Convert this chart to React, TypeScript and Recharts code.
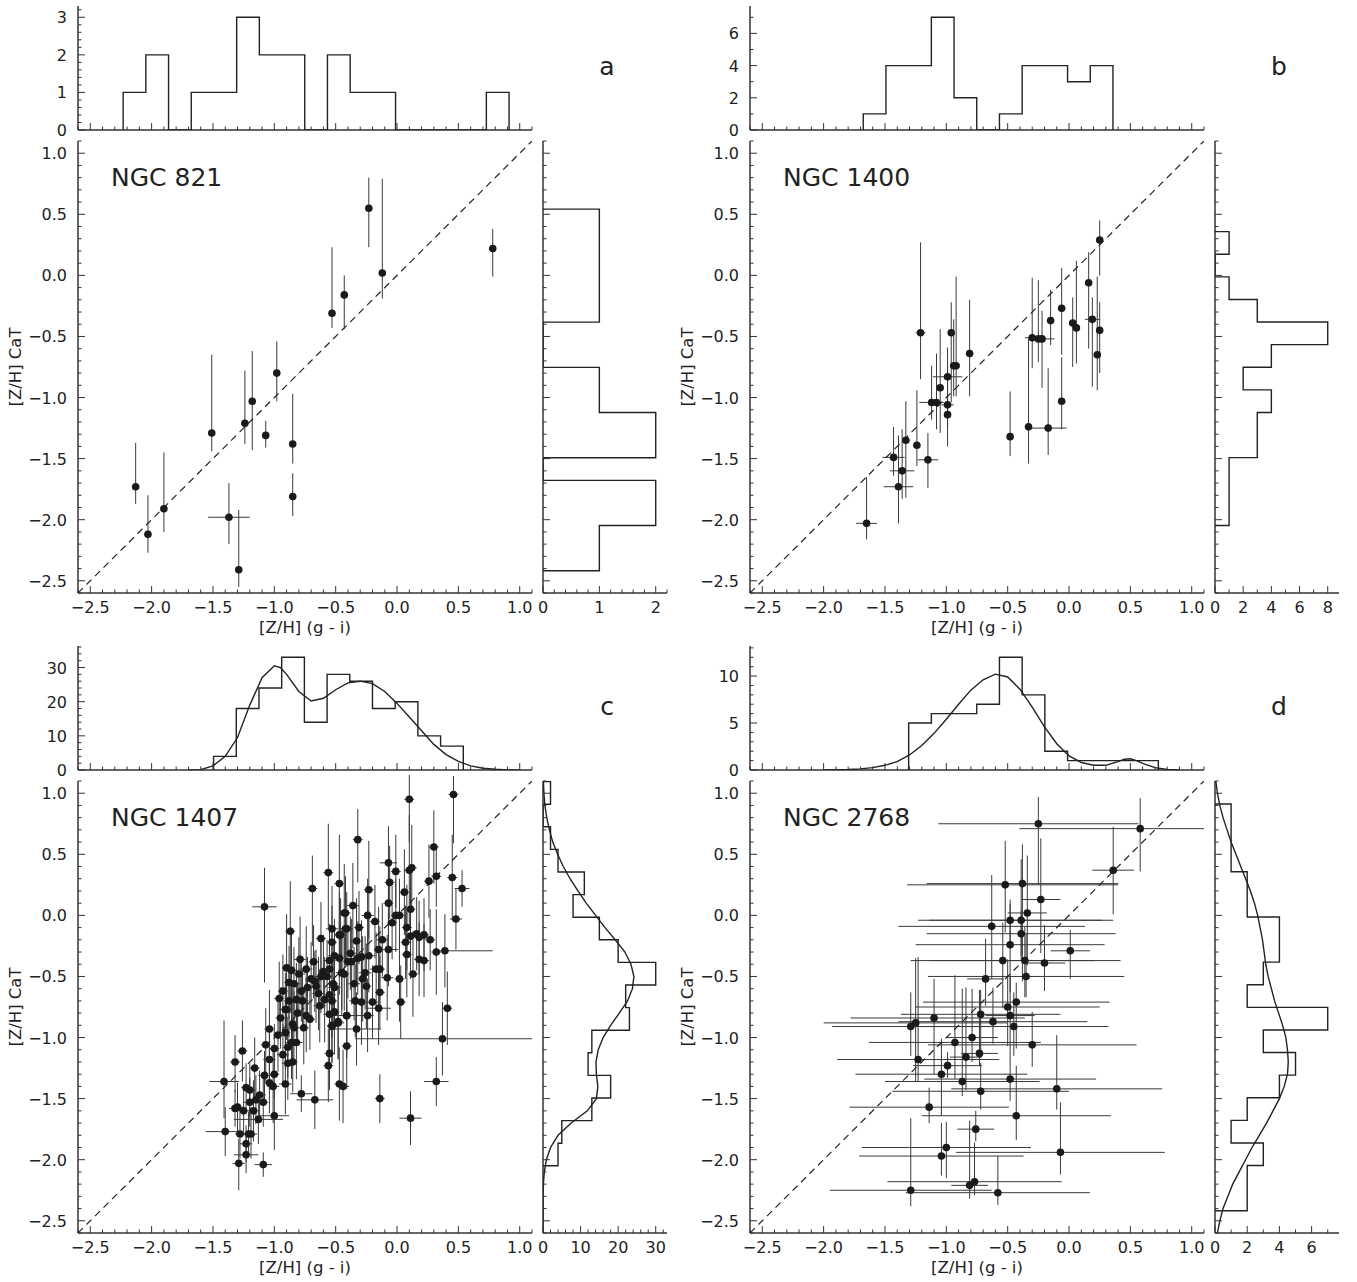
import React from 'react';
import { ScatterChart, Scatter, XAxis, YAxis, ErrorBar } from 'recharts';

type Err = number | [number, number];
// [Z/H](g-i), [Z/H](CaT), x error, y error ([lower, upper] when asymmetric)
type Obs = [number, number, Err, Err];
type XY = { x: number; y: number };

const FONT = '"DejaVu Sans", Verdana, sans-serif';
const INK = '#222222';
const FRAME = '#333333';
const BAR = '#3a3a3a';
const TICK_FONT = 16;

// shared metallicity axis
const ZH_DOMAIN: [number, number] = [-2.6, 1.1];
const ZH_MAJOR = [-2.5, -2.0, -1.5, -1.0, -0.5, 0.0, 0.5, 1.0];
const ZH_MINOR = 0.1;
const ONE_TO_ONE = [-2.6, 1.1];
const BIN = 0.185;

// ---------------- NGC 821 ----------------
const ngc821: Obs[] = [
  [-2.13, -1.73, 0.02, [0.14, 0.36]],
  [-2.03, -2.12, 0.02, [0.15, 0.32]],
  [-1.9, -1.91, 0.02, [0.19, 0.46]],
  [-1.51, -1.29, 0.02, [0.15, 0.64]],
  [-1.37, -1.98, 0.17, [0.22, 0.28]],
  [-1.29, -2.41, 0.02, [0.14, 0.49]],
  [-1.24, -1.21, 0.02, [0.17, 0.43]],
  [-1.18, -1.03, 0.02, [0.4, 0.41]],
  [-1.07, -1.31, 0.02, [0.1, 0.12]],
  [-0.98, -0.8, 0.02, [0.23, 0.26]],
  [-0.85, -1.38, 0.02, [0.16, 0.41]],
  [-0.85, -1.81, 0.02, [0.16, 0.19]],
  [-0.53, -0.31, 0.02, [0.12, 0.54]],
  [-0.43, -0.16, 0.02, [0.28, 0.16]],
  [-0.23, 0.55, 0.02, [0.32, 0.25]],
  [-0.12, 0.02, 0.02, [0.21, 0.77]],
  [0.78, 0.22, 0.02, [0.23, 0.16]],
];
const ngc821TopStart = -2.232;
const ngc821TopCounts = [1, 2, 0, 1, 1, 3, 2, 2, 0, 2, 1, 1, 0, 0, 0, 0, 1];
const ngc821SideStart = -2.418;
const ngc821SideCounts = [1, 1, 2, 2, 0, 2, 2, 1, 1, 0, 0, 1, 1, 1, 1, 1];

// ---------------- NGC 1400 ----------------
const ngc1400: Obs[] = [
  [-1.65, -2.03, 0.085, [0.13, 0.38]],
  [-1.43, -1.49, 0.09, [0.15, 0.25]],
  [-1.39, -1.73, 0.12, [0.3, 0.42]],
  [-1.36, -1.6, 0.1, [0.23, 0.34]],
  [-1.33, -1.35, 0.03, [0.47, 0.32]],
  [-1.24, -1.39, 0.02, [0.17, 0.45]],
  [-1.15, -1.51, 0.085, [0.23, 0.22]],
  [-1.21, -0.47, 0.04, [0.38, 0.74]],
  [-1.12, -1.04, 0.1, [0.14, 0.3]],
  [-1.08, -1.04, 0.02, [0.22, 0.4]],
  [-1.05, -0.92, 0.02, [0.37, 0.48]],
  [-0.99, -0.83, 0.12, [0.34, 0.24]],
  [-0.99, -1.06, 0.05, [0.34, 0.31]],
  [-0.99, -1.14, 0.02, [0.1, 0.1]],
  [-0.96, -0.47, 0.02, [0.57, 0.25]],
  [-0.94, -0.74, 0.02, [0.25, 0.38]],
  [-0.92, -0.74, 0.02, [0.25, 0.73]],
  [-0.81, -0.64, 0.02, [0.35, 0.44]],
  [-0.48, -1.32, 0.02, [0.16, 0.37]],
  [-0.33, -1.24, 0.02, [0.3, 0.72]],
  [-0.3, -0.51, 0.06, [0.25, 0.49]],
  [-0.25, -0.52, 0.02, [0.19, 0.48]],
  [-0.22, -0.52, 0.1, [0.4, 0.23]],
  [-0.17, -1.25, 0.15, [0.22, 0.49]],
  [-0.15, -0.37, 0.02, [0.2, 0.25]],
  [-0.06, -1.03, 0.02, [0.23, 0.36]],
  [-0.06, -0.27, 0.02, [0.38, 0.33]],
  [0.03, -0.39, 0.02, [0.36, 0.21]],
  [0.06, -0.43, 0.02, [0.29, 0.55]],
  [0.16, -0.06, 0.02, [0.54, 0.25]],
  [0.19, -0.36, 0.06, [0.55, 0.18]],
  [0.23, -0.65, 0.02, [0.29, 0.64]],
  [0.25, -0.45, 0.02, [0.35, 0.23]],
  [0.25, 0.29, 0.02, [0.29, 0.16]],
];
const ngc1400TopStart = -1.677;
const ngc1400TopCounts = [1, 4, 4, 7, 2, 0, 1, 4, 4, 3, 4];
const ngc1400SideStart = -2.047;
const ngc1400SideCounts = [1, 1, 1, 3, 3, 4, 2, 4, 8, 3, 1, 0, 1];

// ---------------- NGC 1407 ----------------
const ngc1407: Obs[] = [
  [-1.08, 0.07, 0.1, [0.62, 0.32]],
  [-1.41, -1.36, 0.12, [0.3, 0.5]],
  [-1.4, -1.77, [0.16, 0.1], 0.2],
  [-1.32, -1.2, 0.04, [0.25, 0.22]],
  [-1.26, -1.11, 0.04, 0.25],
  [-1.32, -1.58, 0.05, 0.15],
  [-1.3, -1.57, 0.05, 0.2],
  [-1.28, -1.79, 0.04, 0.2],
  [-1.23, -1.87, 0.05, 0.15],
  [-1.23, -1.96, 0.1, 0.15],
  [-1.29, -2.03, 0.05, [0.22, 0.2]],
  [-1.21, -1.79, 0.04, 0.18],
  [-1.19, -1.79, 0.05, 0.2],
  [-1.23, -1.41, 0.04, 0.2],
  [-1.2, -1.43, 0.05, 0.22],
  [-1.2, -1.53, 0.05, 0.2],
  [-1.17, -1.6, 0.04, 0.25],
  [-1.13, -1.67, 0.2, 0.2],
  [-1.15, -1.51, 0.05, 0.2],
  [-1.09, -1.53, 0.04, 0.2],
  [-1.09, -2.04, 0.07, 0.1],
  [-1.0, -1.64, 0.12, 0.28],
  [-1.08, -1.31, 0.05, 0.2],
  [-1.07, -1.06, 0.04, 0.3],
  [-1.04, -0.93, 0.04, [0.2, 0.32]],
  [-1.04, -1.37, 0.04, 0.25],
  [-1.01, -1.4, 0.05, 0.3],
  [-1.0, -1.3, 0.04, 0.2],
  [-1.04, -1.18, 0.05, 0.25],
  [-1.0, -1.09, 0.04, 0.2],
  [-0.96, -0.68, 0.04, 0.3],
  [-0.95, -0.84, 0.04, 0.25],
  [-0.91, -0.77, 0.05, 0.3],
  [-0.9, -0.43, 0.04, 0.44],
  [-0.88, -0.55, 0.04, 0.3],
  [-0.86, -0.45, 0.05, 0.35],
  [-0.87, -0.13, 0.04, [0.67, 0.41]],
  [-0.9, -0.77, 0.05, 0.25],
  [-0.91, -0.96, 0.04, 0.3],
  [-0.91, -1.38, 0.05, 0.25],
  [-0.89, -1.21, 0.05, 0.3],
  [-0.85, -1.2, 0.04, 0.25],
  [-0.86, -1.04, 0.05, 0.3],
  [-0.89, -1.08, 0.04, 0.25],
  [-0.85, -0.89, 0.04, 0.3],
  [-0.82, -1.04, 0.05, 0.3],
  [-0.81, -0.8, 0.04, 0.25],
  [-0.84, -0.56, 0.05, 0.3],
  [-0.78, -1.46, 0.09, 0.15],
  [-0.67, -1.51, 0.15, 0.24],
  [-0.82, -0.69, 0.04, 0.3],
  [-0.77, -0.7, 0.05, 0.25],
  [-0.76, -0.92, 0.04, 0.3],
  [-0.74, -0.44, 0.05, 0.35],
  [-0.73, -0.59, 0.04, 0.25],
  [-0.69, 0.22, 0.04, [0.47, 0.27]],
  [-0.7, -0.52, 0.05, 0.3],
  [-0.67, -0.54, 0.04, 0.25],
  [-0.74, -0.82, 0.05, 0.3],
  [-0.71, -0.85, 0.04, 0.25],
  [-0.66, -0.58, 0.04, 0.3],
  [-0.63, -0.74, 0.05, 0.3],
  [-0.62, -0.19, 0.04, 0.3],
  [-0.62, -0.5, 0.05, 0.3],
  [-0.59, -0.69, 0.04, 0.35],
  [-0.56, 0.35, 0.04, [0.45, 0.4]],
  [-0.53, -0.11, 0.05, 0.35],
  [-0.53, -0.22, 0.04, 0.3],
  [-0.55, -0.37, 0.05, 0.3],
  [-0.57, -0.5, 0.04, 0.3],
  [-0.55, -0.44, 0.04, 0.35],
  [-0.51, -0.33, 0.05, 0.3],
  [-0.52, -0.56, 0.04, 0.35],
  [-0.55, -0.65, 0.05, 0.3],
  [-0.53, -0.7, 0.04, 0.3],
  [-0.55, -0.81, 0.05, 0.3],
  [-0.53, -0.91, 0.04, 0.3],
  [-0.55, -1.13, 0.04, 0.3],
  [-0.56, -1.23, 0.04, 0.3],
  [-0.51, -0.79, 0.04, 0.35],
  [-0.48, -0.88, 0.05, 0.3],
  [-0.47, 0.26, 0.04, 0.4],
  [-0.47, -0.16, 0.04, 0.35],
  [-0.45, -0.47, 0.05, 0.3],
  [-0.43, 0.02, 0.04, 0.4],
  [-0.41, -0.11, 0.05, 0.3],
  [-0.4, -0.38, 0.04, 0.3],
  [-0.41, -0.82, 0.05, 0.35],
  [-0.41, -1.07, 0.04, 0.35],
  [-0.47, -1.38, 0.04, 0.3],
  [-0.44, -1.4, 0.05, 0.3],
  [0.1, 0.95, 0.04, [0.35, 0.2]],
  [0.46, 0.99, 0.04, [0.4, 0.15]],
  [-0.32, 0.62, 0.04, [0.35, 0.25]],
  [0.3, 0.56, 0.04, 0.3],
  [-0.07, 0.43, 0.07, 0.3],
  [-0.01, 0.36, 0.04, 0.3],
  [0.1, 0.37, 0.04, 0.45],
  [0.12, 0.39, 0.04, 0.35],
  [0.32, 0.32, 0.04, 0.25],
  [0.45, 0.31, 0.04, 0.35],
  [0.26, 0.28, 0.04, 0.3],
  [0.53, 0.22, 0.06, 0.15],
  [-0.06, 0.27, 0.04, 0.3],
  [0.06, 0.19, 0.04, 0.35],
  [-0.23, 0.21, 0.04, 0.4],
  [-0.36, 0.08, 0.05, 0.35],
  [-0.42, 0.02, 0.04, 0.3],
  [-0.24, 0.0, 0.05, 0.3],
  [-0.07, 0.1, 0.04, 0.35],
  [-0.01, 0.0, 0.04, 0.3],
  [0.02, 0.0, 0.04, 0.3],
  [-0.04, -0.06, 0.04, 0.3],
  [0.11, 0.05, 0.04, 0.3],
  [0.48, -0.03, 0.05, 0.25],
  [0.08, -0.1, 0.04, 0.35],
  [0.16, -0.15, 0.04, 0.3],
  [0.11, -0.17, 0.04, 0.35],
  [0.22, -0.16, 0.04, 0.3],
  [0.27, -0.2, 0.04, 0.25],
  [0.18, -0.18, 0.04, 0.3],
  [0.07, -0.22, 0.04, 0.3],
  [-0.46, -0.16, 0.05, 0.3],
  [-0.42, -0.11, 0.04, 0.3],
  [-0.33, -0.21, 0.05, 0.35],
  [-0.47, -0.35, 0.04, 0.3],
  [-0.38, -0.31, 0.05, 0.3],
  [-0.32, -0.35, 0.04, 0.3],
  [-0.29, -0.34, 0.05, 0.3],
  [-0.37, -0.38, 0.04, 0.35],
  [-0.23, -0.33, 0.05, 0.3],
  [-0.15, -0.28, 0.04, 0.35],
  [-0.07, -0.28, 0.08, 0.3],
  [0.08, -0.32, 0.04, 0.35],
  [0.32, -0.3, 0.04, 0.35],
  [0.39, -0.29, [0.05, 0.39], 0.3],
  [0.18, -0.36, 0.04, 0.3],
  [0.22, -0.37, 0.04, 0.3],
  [0.13, -0.48, 0.04, 0.35],
  [-0.17, -0.44, 0.05, 0.3],
  [-0.14, -0.44, 0.04, 0.35],
  [-0.26, -0.47, 0.05, 0.3],
  [-0.45, -0.47, 0.04, 0.35],
  [-0.43, -0.48, 0.04, 0.3],
  [-0.08, -0.51, 0.05, 0.35],
  [0.02, -0.52, 0.04, 0.35],
  [-0.35, -0.56, 0.05, 0.3],
  [-0.28, -0.52, 0.04, 0.35],
  [-0.51, -0.59, 0.05, 0.3],
  [-0.14, -0.63, 0.04, 0.3],
  [-0.34, -0.7, 0.05, 0.3],
  [-0.29, -0.71, 0.04, 0.35],
  [-0.2, -0.71, 0.05, 0.3],
  [0.03, -0.71, 0.04, 0.3],
  [-0.15, -0.76, 0.1, 0.3],
  [0.41, -0.76, 0.04, 0.3],
  [-0.41, -0.82, 0.15, 0.3],
  [-0.24, -0.82, 0.05, 0.3],
  [-0.48, -0.87, 0.04, 0.3],
  [-0.33, -0.93, 0.2, 0.3],
  [-0.53, -0.9, 0.04, 0.3],
  [0.37, -1.01, [0.71, 0.73], 0.3],
  [0.32, -1.36, 0.1, 0.2],
  [-0.14, -1.5, 0.04, 0.2],
  [0.11, -1.66, 0.09, 0.22],
  [-0.93, -0.62, 0.04, 0.3],
  [-0.8, -0.48, 0.05, 0.3],
  [-0.78, -0.62, 0.04, 0.25],
  [-0.84, -0.92, 0.04, 0.3],
  [-0.93, -1.14, 0.05, 0.25],
  [-0.97, -0.98, 0.04, 0.3],
  [-0.88, -0.7, 0.04, 0.3],
  [-0.79, -0.36, 0.05, 0.35],
  [-0.68, -0.38, 0.04, 0.3],
  [-0.64, -0.64, 0.05, 0.3],
  [-0.6, -0.46, 0.04, 0.3],
  [-0.25, -0.58, 0.04, 0.35],
  [-0.12, -0.2, 0.05, 0.3],
  [-0.18, -0.05, 0.04, 0.3],
  [-0.31, -0.1, 0.04, 0.3],
  [-1.12, -1.47, 0.05, 0.2],
  [-1.25, -1.6, 0.05, 0.2],
  [-1.16, -1.25, 0.04, 0.25],
];
const ngc1407TopStart = -1.495;
const ngc1407TopCounts = [4, 18, 24, 33, 14, 28, 26, 18, 20, 10, 7];
const ngc1407SideStart = -2.05;
const ngc1407SideCounts = [4, 5, 13, 18, 12, 13, 23, 22, 30, 20, 15, 8, 11, 4, 2, 0, 2];
// kernel density estimates: [Z/H], N
const ngc1407TopKde: [number, number][] = [
  [-1.7, 0], [-1.6, 0.1], [-1.5, 1.2], [-1.4, 4], [-1.3, 9.5], [-1.2, 19], [-1.1, 27],
  [-1.0, 30.5], [-0.95, 30], [-0.9, 28], [-0.8, 23], [-0.7, 20.2], [-0.6, 21], [-0.5, 23.5],
  [-0.4, 25.5], [-0.3, 26], [-0.2, 25.3], [-0.1, 23], [0.0, 19.5], [0.1, 15.5], [0.2, 11.5],
  [0.3, 7.5], [0.4, 4.5], [0.5, 2.5], [0.6, 1.2], [0.7, 0.5], [0.8, 0.2], [0.9, 0.05], [1.0, 0],
];
const ngc1407SideKde: [number, number][] = [
  [1.1, 0.1], [1.0, 0.25], [0.9, 0.5], [0.8, 1.0], [0.7, 1.7], [0.6, 2.6], [0.5, 3.9],
  [0.4, 5.4], [0.3, 7.2], [0.2, 9.3], [0.1, 11.5], [0.0, 14.0], [-0.1, 16.5], [-0.2, 19.2],
  [-0.3, 21.8], [-0.4, 23.4], [-0.5, 24.2], [-0.6, 23.8], [-0.7, 22.5], [-0.8, 20.3],
  [-0.9, 18.0], [-1.0, 16.0], [-1.1, 14.7], [-1.2, 14.1], [-1.3, 14.2], [-1.4, 14.6],
  [-1.5, 14.2], [-1.6, 11.8], [-1.7, 7.5], [-1.8, 4.0], [-1.9, 2.0], [-2.0, 0.9],
  [-2.1, 0.35], [-2.2, 0.1], [-2.3, 0.02], [-2.6, 0],
];

// ---------------- NGC 2768 ----------------
const ngc2768: Obs[] = [
  [-0.25, 0.75, 0.815, [0.5, 0.22]],
  [0.58, 0.71, [0.985, 0.52], [0.35, 0.25]],
  [0.36, 0.37, 0.17, [0.36, 0.355]],
  [-0.52, 0.25, [0.8, 0.92], [0.39, 0.36]],
  [-0.38, 0.26, 0.78, [0.8, 0.32]],
  [-0.23, 0.13, 0.16, [0.44, 0.5]],
  [-0.34, 0.02, 0.16, [0.43, 0.47]],
  [-0.48, -0.04, 0.75, [0.19, 0.17]],
  [-0.39, -0.04, 0.75, [0.33, 0.5]],
  [-0.63, -0.09, 0.76, [0.43, 0.42]],
  [-0.39, -0.15, 0.77, [0.18, 0.19]],
  [-0.48, -0.24, 0.77, [0.39, 0.33]],
  [0.01, -0.29, 0.16, [0.23, 0.17]],
  [-0.54, -0.37, 0.75, [0.39, 0.31]],
  [-0.36, -0.37, 0.78, [0.3, 0.28]],
  [-0.2, -0.39, 0.17, [0.23, 0.31]],
  [-0.35, -0.5, 0.8, [0.17, 0.35]],
  [-0.68, -0.52, 0.15, [0.22, 0.33]],
  [-0.43, -0.71, 0.76, [0.38, 0.16]],
  [-0.5, -0.75, 0.75, [0.32, 0.39]],
  [-0.72, -0.81, 0.65, [0.34, 0.2]],
  [-0.48, -0.82, 0.2, [0.28, 0.32]],
  [-1.1, -0.84, [0.68, 0.74], [0.46, 0.32]],
  [-0.62, -0.87, 0.77, [0.18, 0.28]],
  [-1.25, -0.88, 0.75, [0.48, 0.53]],
  [-1.29, -0.91, 0.64, [0.24, 0.28]],
  [-0.45, -0.91, 0.77, [0.24, 0.28]],
  [-0.79, -1.0, 0.21, [0.2, 0.4]],
  [-0.93, -1.04, 0.7, [0.3, 0.55]],
  [-0.3, -1.06, 0.85, [0.18, 0.27]],
  [-0.84, -1.16, 0.13, [0.27, 0.57]],
  [-0.73, -1.13, 0.15, [0.1, 0.52]],
  [-1.23, -1.18, 0.66, [0.18, 0.84]],
  [-0.99, -1.23, 0.28, [0.1, 0.11]],
  [-1.04, -1.3, 0.7, [0.34, 0.29]],
  [-0.87, -1.36, 0.63, [0.12, 0.76]],
  [-0.48, -1.34, 0.7, [0.18, 0.24]],
  [-0.1, -1.42, 0.86, [0.17, 0.44]],
  [-0.72, -1.44, 0.72, [0.15, 0.23]],
  [-1.14, -1.57, 0.65, [0.13, 0.16]],
  [-0.43, -1.64, 0.77, [0.2, 0.41]],
  [-0.76, -1.75, 0.15, [0.1, 0.15]],
  [-1.0, -1.9, 0.69, [0.25, 0.21]],
  [-1.04, -1.97, 0.67, [0.16, 0.27]],
  [-0.07, -1.94, 0.85, [0.18, 0.41]],
  [-1.29, -2.25, 0.66, [0.13, 0.59]],
  [-0.81, -2.21, 0.15, [0.11, 0.53]],
  [-0.77, -2.18, 0.71, [0.11, 0.32]],
  [-0.58, -2.27, 0.75, [0.1, 0.3]],
];
const ngc2768TopStart = -1.307;
const ngc2768TopCounts = [5, 6, 6, 7, 12, 8, 2, 1, 1, 1, 1];
const ngc2768SideStart = -2.418;
const ngc2768SideCounts = [2, 2, 3, 1, 2, 4, 5, 3, 7, 2, 3, 4, 4, 2, 2, 1, 1, 1];
const ngc2768TopKde: [number, number][] = [
  [-2.0, 0], [-1.8, 0.05], [-1.7, 0.12], [-1.6, 0.25], [-1.5, 0.5], [-1.4, 0.9], [-1.3, 1.6],
  [-1.2, 2.6], [-1.1, 3.9], [-1.0, 5.4], [-0.9, 7.0], [-0.8, 8.5], [-0.7, 9.6], [-0.6, 10.2],
  [-0.5, 9.9], [-0.4, 8.6], [-0.3, 6.7], [-0.2, 4.6], [-0.1, 2.8], [0.0, 1.5], [0.1, 0.8],
  [0.2, 0.5], [0.3, 0.5], [0.4, 0.9], [0.45, 1.15], [0.5, 1.2], [0.55, 1.0], [0.6, 0.7],
  [0.7, 0.25], [0.8, 0.05], [0.9, 0],
];
const ngc2768SideKde: [number, number][] = [
  [1.1, 0.05], [1.0, 0.15], [0.9, 0.3], [0.8, 0.5], [0.7, 0.75], [0.6, 1.0], [0.5, 1.3],
  [0.4, 1.6], [0.3, 1.9], [0.2, 2.2], [0.1, 2.45], [0.0, 2.65], [-0.1, 2.8], [-0.2, 2.95],
  [-0.3, 3.05], [-0.4, 3.15], [-0.5, 3.3], [-0.6, 3.5], [-0.7, 3.7], [-0.8, 3.95], [-0.9, 4.2],
  [-1.0, 4.4], [-1.1, 4.5], [-1.2, 4.55], [-1.3, 4.5], [-1.4, 4.3], [-1.5, 4.0], [-1.6, 3.6],
  [-1.7, 3.2], [-1.8, 2.75], [-1.9, 2.3], [-2.0, 1.9], [-2.1, 1.5], [-2.2, 1.1], [-2.3, 0.8],
  [-2.4, 0.5], [-2.5, 0.3], [-2.6, 0.15],
];

// ---------------- layout ----------------
const MAIN_L = 78;
const MAIN_T = 141;
const MAIN_W = 454;
const MAIN_H = 452;
const GAP = 11;
const MARG = 124; // thickness of the marginal histograms
const DX = 672;
const DY = 640;
const PAD = { t: 10, r: 10, b: 40, l: 60 };
const MAJOR_LEN = 7;
const MINOR_LEN = 3.5;

type PanelDef = {
  letter: string;
  name: string;
  dx: number;
  dy: number;
  obs: Obs[];
  topStart: number;
  topCounts: number[];
  topMajor: number[];
  topMinor: number;
  sideStart: number;
  sideCounts: number[];
  sideMajor: number[];
  sideMinor: number;
  topKde?: [number, number][];
  sideKde?: [number, number][];
};

const PANELS: PanelDef[] = [
  {
    letter: 'a', name: 'NGC 821', dx: 0, dy: 0, obs: ngc821,
    topStart: ngc821TopStart, topCounts: ngc821TopCounts, topMajor: [0, 1, 2, 3], topMinor: 0.2,
    sideStart: ngc821SideStart, sideCounts: ngc821SideCounts, sideMajor: [0, 1, 2], sideMinor: 0.2,
  },
  {
    letter: 'b', name: 'NGC 1400', dx: DX, dy: 0, obs: ngc1400,
    topStart: ngc1400TopStart, topCounts: ngc1400TopCounts, topMajor: [0, 2, 4, 6], topMinor: 1,
    sideStart: ngc1400SideStart, sideCounts: ngc1400SideCounts, sideMajor: [0, 2, 4, 6, 8], sideMinor: 1,
  },
  {
    letter: 'c', name: 'NGC 1407', dx: 0, dy: DY, obs: ngc1407,
    topStart: ngc1407TopStart, topCounts: ngc1407TopCounts, topMajor: [0, 10, 20, 30], topMinor: 2,
    sideStart: ngc1407SideStart, sideCounts: ngc1407SideCounts, sideMajor: [0, 10, 20, 30], sideMinor: 2,
    topKde: ngc1407TopKde, sideKde: ngc1407SideKde,
  },
  {
    letter: 'd', name: 'NGC 2768', dx: DX, dy: DY, obs: ngc2768,
    topStart: ngc2768TopStart, topCounts: ngc2768TopCounts, topMajor: [0, 5, 10], topMinor: 1,
    sideStart: ngc2768SideStart, sideCounts: ngc2768SideCounts, sideMajor: [0, 2, 4, 6], sideMinor: 1,
    topKde: ngc2768TopKde, sideKde: ngc2768SideKde,
  },
];

// ---------------- helpers ----------------
function tickValues(domain: [number, number], step: number): number[] {
  const out: number[] = [];
  const first = Math.ceil(domain[0] / step - 1e-9);
  const last = Math.floor(domain[1] / step + 1e-9);
  for (let i = first; i <= last; i++) out.push(Math.round(i * step * 1e6) / 1e6);
  return out;
}

const fmt = (v: number, digits: number) =>
  (v < -1e-9 ? '\u2212' : '') + Math.abs(v).toFixed(digits);

type Side = 'bottom' | 'top' | 'left' | 'right';

function makeTick(side: Side, majors: number[], digits: number, labelled: boolean) {
  return (props: any) => {
    const { x, y, payload } = props;
    const v = payload.value as number;
    const major = majors.some((m) => Math.abs(m - v) < 1e-6);
    const len = major ? MAJOR_LEN : MINOR_LEN;
    const dx = side === 'left' ? len : side === 'right' ? -len : 0;
    const dy = side === 'bottom' ? -len : side === 'top' ? len : 0;
    const showText = labelled && major;
    return (
      <g>
        <line x1={x} y1={y} x2={x + dx} y2={y + dy} stroke={FRAME} strokeWidth={1} />
        {showText && side === 'bottom' && (
          <text x={x} y={y + 20} textAnchor="middle" fontSize={TICK_FONT} fontFamily={FONT} fill={INK}>
            {fmt(v, digits)}
          </text>
        )}
        {showText && side === 'left' && (
          <text x={x - 11} y={y + 6} textAnchor="end" fontSize={TICK_FONT} fontFamily={FONT} fill={INK}>
            {fmt(v, digits)}
          </text>
        )}
      </g>
    );
  };
}

type AxisOpts = {
  xDomain: [number, number];
  xMajor: number[];
  xStep: number;
  xDigits: number;
  xLabels: boolean;
  yDomain: [number, number];
  yMajor: number[];
  yStep: number;
  yDigits: number;
  yLabels: boolean;
};

// four-sided box with inward major/minor ticks
function frameAxes(o: AxisOpts) {
  const xTicks = tickValues(o.xDomain, o.xStep);
  const yTicks = tickValues(o.yDomain, o.yStep);
  const line = { stroke: FRAME, strokeWidth: 1.5 };
  return [
    <XAxis key="xb" xAxisId="b" orientation="bottom" type="number" dataKey="x" height={PAD.b}
      domain={o.xDomain} ticks={xTicks} interval={0} allowDataOverflow tickLine={false}
      tickSize={0} tickMargin={0} axisLine={line} tick={makeTick('bottom', o.xMajor, o.xDigits, o.xLabels)} />,
    <XAxis key="xt" xAxisId="t" orientation="top" type="number" dataKey="x" height={0}
      domain={o.xDomain} ticks={xTicks} interval={0} allowDataOverflow tickLine={false}
      tickSize={0} tickMargin={0} axisLine={line} tick={makeTick('top', o.xMajor, o.xDigits, false)} />,
    <YAxis key="yl" yAxisId="l" orientation="left" type="number" dataKey="y" width={PAD.l}
      domain={o.yDomain} ticks={yTicks} interval={0} allowDataOverflow tickLine={false}
      tickSize={0} tickMargin={0} axisLine={line} tick={makeTick('left', o.yMajor, o.yDigits, o.yLabels)} />,
    <YAxis key="yr" yAxisId="r" orientation="right" type="number" dataKey="y" width={0}
      domain={o.yDomain} ticks={yTicks} interval={0} allowDataOverflow tickLine={false}
      tickSize={0} tickMargin={0} axisLine={line} tick={makeTick('right', o.yMajor, o.yDigits, false)} />,
  ];
}

// matplotlib-style 'step' histogram outline
function stepOutline(start: number, counts: number[], sideways: boolean): XY[] {
  const pts: XY[] = [];
  const push = (edge: number, n: number) => pts.push(sideways ? { x: n, y: edge } : { x: edge, y: n });
  push(start, 0);
  counts.forEach((n, i) => {
    push(start + i * BIN, n);
    push(start + (i + 1) * BIN, n);
  });
  push(start + counts.length * BIN, 0);
  return pts;
}

const noMark = () => <g />;
const dot = (p: any) => <circle cx={p.cx} cy={p.cy} r={3.8} fill="#1a1a1a" />;

function Box({ left, top, width, height, children }: {
  left: number; top: number; width: number; height: number; children: React.ReactNode;
}) {
  return (
    <div style={{ position: 'absolute', left: left - PAD.l, top: top - PAD.t }}>
      <ScatterChart
        width={width + PAD.l + PAD.r}
        height={height + PAD.t + PAD.b}
        margin={{ top: PAD.t, right: PAD.r, bottom: 0, left: 0 }}
      >
        {children}
      </ScatterChart>
    </div>
  );
}

function PanelCharts({ p }: { p: PanelDef }) {
  const mainL = MAIN_L + p.dx;
  const mainT = MAIN_T + p.dy;
  const rows = p.obs.map(([x, y, ex, ey]) => ({ x, y, ex, ey }));
  const diagonal = ONE_TO_ONE.map((v) => ({ x: v, y: v }));
  const topMax = Math.max(...p.topCounts) * 1.1;
  const sideMax = Math.max(...p.sideCounts) * 1.1;
  const curve = { stroke: INK, strokeWidth: 1.4, fill: 'none' };

  return (
    <>
      {/* top marginal: [Z/H](g-i) */}
      <Box left={mainL} top={mainT - GAP - MARG} width={MAIN_W} height={MARG}>
        {frameAxes({
          xDomain: ZH_DOMAIN, xMajor: ZH_MAJOR, xStep: ZH_MINOR, xDigits: 1, xLabels: false,
          yDomain: [0, topMax], yMajor: p.topMajor, yStep: p.topMinor, yDigits: 0, yLabels: true,
        })}
        <Scatter data={stepOutline(p.topStart, p.topCounts, false)} xAxisId="b" yAxisId="l"
          line={curve} lineType="joint" shape={noMark} isAnimationActive={false} />
        {p.topKde && (
          <Scatter data={p.topKde.map(([x, y]) => ({ x, y }))} xAxisId="b" yAxisId="l"
            line={curve} lineType="joint" shape={noMark} isAnimationActive={false} />
        )}
      </Box>

      {/* main scatter */}
      <Box left={mainL} top={mainT} width={MAIN_W} height={MAIN_H}>
        {frameAxes({
          xDomain: ZH_DOMAIN, xMajor: ZH_MAJOR, xStep: ZH_MINOR, xDigits: 1, xLabels: true,
          yDomain: ZH_DOMAIN, yMajor: ZH_MAJOR, yStep: ZH_MINOR, yDigits: 1, yLabels: true,
        })}
        <Scatter data={diagonal} xAxisId="b" yAxisId="l" shape={noMark} isAnimationActive={false}
          line={{ stroke: INK, strokeWidth: 1.2, strokeDasharray: '7 5' }} lineType="joint" />
        <Scatter data={rows} xAxisId="b" yAxisId="l" shape={dot} isAnimationActive={false}>
          <ErrorBar dataKey="ey" direction="y" width={0} stroke={BAR} strokeWidth={1} isAnimationActive={false} />
          <ErrorBar dataKey="ex" direction="x" width={0} stroke={BAR} strokeWidth={1} isAnimationActive={false} />
        </Scatter>
      </Box>

      {/* side marginal: [Z/H] CaT */}
      <Box left={mainL + MAIN_W + GAP} top={mainT} width={MARG} height={MAIN_H}>
        {frameAxes({
          xDomain: [0, sideMax], xMajor: p.sideMajor, xStep: p.sideMinor, xDigits: 0, xLabels: true,
          yDomain: ZH_DOMAIN, yMajor: ZH_MAJOR, yStep: ZH_MINOR, yDigits: 1, yLabels: false,
        })}
        <Scatter data={stepOutline(p.sideStart, p.sideCounts, true)} xAxisId="b" yAxisId="l"
          line={curve} lineType="joint" shape={noMark} isAnimationActive={false} />
        {p.sideKde && (
          <Scatter data={p.sideKde.map(([y, x]) => ({ x, y }))} xAxisId="b" yAxisId="l"
            line={curve} lineType="joint" shape={noMark} isAnimationActive={false} />
        )}
      </Box>
    </>
  );
}

function Captions() {
  return (
    <svg width={1357} height={1282} style={{ position: 'absolute', left: 0, top: 0, pointerEvents: 'none' }}>
      {PANELS.map((p) => {
        const mainL = MAIN_L + p.dx;
        const mainT = MAIN_T + p.dy;
        const cx = mainL + MAIN_W / 2;
        const cy = mainT + MAIN_H / 2;
        return (
          <g key={p.letter} fontFamily={FONT} fill={INK}>
            <text x={mainL + 33} y={mainT + 45} fontSize={25}>{p.name}</text>
            <text x={cx} y={mainT + MAIN_H + 40} fontSize={16.5} textAnchor="middle">[Z/H] (g - i)</text>
            <text x={15 + p.dx} y={cy} fontSize={16.5} textAnchor="middle" dominantBaseline="central"
              transform={`rotate(-90 ${15 + p.dx} ${cy})`}>[Z/H] CaT</text>
            <text x={607 + p.dx} y={75 + p.dy} fontSize={25} textAnchor="middle">{p.letter}</text>
          </g>
        );
      })}
    </svg>
  );
}

export default function App() {
  return (
    <div style={{ position: 'absolute', left: 0, top: 0, width: 1357, height: 1282, background: '#fff' }}>
      {PANELS.map((p) => (
        <PanelCharts key={p.letter} p={p} />
      ))}
      <Captions />
    </div>
  );
}
